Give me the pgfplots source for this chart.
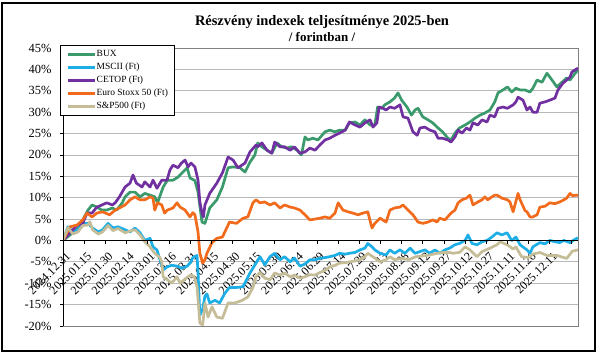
\documentclass[border=0pt]{standalone}
\usepackage{fontspec}
\setmainfont{Liberation Serif}
\usepackage{pgfplots}
\pgfplotsset{compat=1.18}
\definecolor{cbux}{HTML}{3A9A6C}
\definecolor{cmsci}{HTML}{1EAEE6}
\definecolor{ccetop}{HTML}{7030A0}
\definecolor{cstoxx}{HTML}{F26A1B}
\definecolor{csp}{HTML}{C4BD97}
\begin{document}
\begin{tikzpicture}
\useasboundingbox (0bp,0bp) rectangle (599bp,354bp);
\draw[black, line width=1.2bp] (2bp,3bp) rectangle (595bp,351bp);
\node[font=\fontsize{14.5}{16}\selectfont\bfseries] at (322bp,332bp) {Részvény indexek teljesítménye 2025-ben};
\node[font=\fontsize{13}{14}\selectfont\bfseries] at (322bp,317bp) {/ forintban /};
\begin{axis}[
  at={(63bp,28bp)}, anchor=south west,
  scale only axis, width=515bp, height=278bp,
  xmin=0, xmax=365, ymin=-20, ymax=45,
  ytick={-20,-15,...,45},
  yticklabels={-20\%,-15\%,-10\%,-5\%,0\%,5\%,10\%,15\%,20\%,25\%,30\%,35\%,40\%,45\%},
  xtick={0,15,...,345},
  xticklabels={2024.12.31,2025.01.15,2025.01.30,2025.02.14,2025.03.01,2025.03.16,2025.03.31,2025.04.15,2025.04.30,2025.05.15,2025.05.30,2025.06.14,2025.06.29,2025.07.14,2025.07.29,2025.08.13,2025.08.28,2025.09.12,2025.09.27,2025.10.12,2025.10.27,2025.11.11,2025.11.26,2025.12.11},
  x tick style={draw=none},
  ytick pos=left, tick align=outside, major tick length=3bp,
  y tick style={black, line width=0.6bp},
  yticklabel style={font=\fontsize{12.5}{14}\selectfont, xshift=-5bp},
  xticklabel style={font=\fontsize{12}{13}\selectfont, anchor=east, xshift=6.8bp, yshift=76.3bp, rotate=45, inner sep=2bp},
  ymajorgrids, grid style={draw=black!28, line width=0.8bp},
  axis line style={draw=black!50, line width=0.8bp},
  legend style={at={(-0.0058,1.0108)}, anchor=north west, draw=black, line width=0.8bp, fill=white,
    font=\fontsize{9.5}{10}\selectfont, row sep=3bp, inner xsep=6bp, inner ysep=4bp,
    nodes={inner xsep=0.5bp, inner ysep=1bp}},
  legend cell align=left,
  legend image code/.code={\draw[#1, line width=2.8bp] (0bp,0bp) -- (27bp,0bp);},
  every axis plot/.append style={line width=2.7bp, line join=round, no markers},
]
\addplot[cbux] table {
0 0
5 1.3
10 2.5
14 4.8
17.7 7.1
20.6 8.3
24 7.8
27.6 7.1
31 7.1
35 7.6
38 7.1
42 8.8
44 10.2
47.5 11.3
51 11.3
54.6 10.2
58 11
61.7 10.6
65 10.2
67 8.8
71 12.5
74 14.1
78 14.1
81.5 14.8
85 16
88 17
90 14.6
93.5 14
95.7 11.3
98.5 4.3
100.6 4
104 7.6
109 9.5
113 12.5
117 17
120.5 17.2
125.4 17
129 16
132.5 18.3
136 20
138 22.8
141 21.9
144.6 21.1
148 20.4
151.7 22.8
155 21.9
158.7 21.6
162 21.9
165.8 21.1
169 20
171.5 24.2
173.6 23.5
177 23.9
180.7 23.5
185.7 25.4
189 25.8
192.8 25.4
196 25.8
200 25.8
203 27.5
207 27.7
210.5 27
214 28.2
217.6 27
221 27
223 31.2
226 30.9
228 31.7
231.7 32.4
235 33.3
237.4 34.5
240 32.8
243.8 31.2
247 29.3
249.5 30.5
251.6 30.9
255 28.9
258.7 28.2
262 27.5
265.8 26.3
269 25.4
272.8 23.9
275 23.5
277.8 25.1
281 26.3
285 27
288.4 27.7
292 28.6
295.5 29.3
299 29.8
302.6 30.5
306 32.4
308.3 34.5
311.8 35.2
315 35.9
318 34.7
321 35.6
323.9 35.2
327.4 35.2
331 34.7
333 35.6
336 37.5
339.5 37
343 39.1
346.6 37.5
350 35.9
353.6 37
357 38
359.3 37.5
363 39.1
365 39.8
};
\addlegendentry{BUX}
\addplot[cmsci] table {
0 0
3.5 3.2
7 2
10.6 2.5
14 4
17.7 4
21 2.9
25 2
28 2.5
32 4
35.4 2.9
39 3.2
44 2.5
47.5 2
51 2.9
54.6 1.8
58 0
61.7 0.5
63.8 -1.5
66.6 -2.2
68.7 -4.5
71 -6.9
73.7 -6.2
77 -5.8
80.8 -6
84 -6.5
88 -6
90.7 -5
92 -4
95 -3.5
95.7 -7.6
97 -17.5
99 -16
100.6 -13
102 -12.5
104 -14.6
107.7 -14
111 -14.6
114.8 -12.3
118 -11
123 -11
127.6 -10.8
132.5 -7.6
136.8 -5.3
139.6 -3.8
143 -5.7
146.7 -3.8
150 -3
153.8 -4.5
157 -3.8
161 -5
164 -4.1
168 -6
171.5 -5.5
175 -4.5
178.6 -4.5
182 -4.2
185.7 -4
189 -3.8
192.8 -3.5
196 -3
200 -3.2
203 -3
207 -2.8
210.5 -2.2
214 -1.8
216 -0.7
219 -1.5
221 -2.2
224.7 -3
229 -3.4
231.7 -2.2
235 -3
238.8 -2.2
242.4 -3
246 -1.8
249.5 -3
253 -2.6
256.5 -2.2
260 -3
263.6 -2.2
267 -3
270.7 -2.2
274 -1.8
277.8 -1
281 -0.7
285 0
287 1.3
289.9 -0.7
293.4 -1
297 -0.3
300.5 0
304 0.8
307.6 1.8
311 1.3
314.7 1.8
318 0
321 0.8
323.9 -1
328.8 -2.2
331 -3
333 -1.5
338 -0.5
341.6 -0.8
345 0
348.7 -0.3
352 -0.5
355 0
359.3 -0.5
363 0.3
365 0.6
};
\addlegendentry{MSCII (Ft)}
\addplot[ccetop] table {
0 0
5 1.8
10 3.6
14 4
17 6.4
20.6 6.4
24 7.8
27.6 8.3
31 8.8
35 8.3
37 8.8
40 10.2
44 12.5
47.5 13.4
49.6 15.3
52 13.4
56 12.5
58 13.7
61.7 12.5
63.8 14.1
66.6 12.2
70 14.1
73.7 14.1
75.8 16.5
78 17.6
81.5 17
84 18.1
86.5 18.8
88.6 17.2
90.7 18.1
93.5 17.2
95.7 14.1
97 9
98.5 6.4
99.5 5.5
100.6 8.3
104 11
109 13.4
113 15.8
117 19.5
120.5 18.8
124 17
129 18.1
132.5 20.7
136.8 22.3
138 21.9
141 22.8
144.6 21.1
148 20.4
150 23
153.8 21.9
157 21.9
161 21.1
164 21.9
168 20.4
171.5 20.7
175 21.6
178.6 21.1
182 22.3
185.7 23.5
189 23.9
192.8 24.6
196 25.1
200 25.8
203 27.7
207 27
210.5 26.5
214 27.5
217.6 28.2
219.7 26.5
222.5 27.5
224 31.2
226.8 30.9
229 30.5
231.7 31.2
235 30.9
238.8 31.7
241 28.9
244.5 28.6
248 25.4
251 24.6
253 26.3
256.5 26.5
260 25.8
263.6 25.4
265.8 23.9
269 23.9
272.8 23.5
275 23
277.8 24.2
280 25.8
282.8 25.1
286 26.3
288.4 25.8
290.6 27.5
294 27
297 28.2
300.5 27.7
302.6 29.3
306 28.9
308.3 30.9
311.8 31.2
315 30.9
319 31.7
321 32.4
322.5 33.5
326 32.8
328.8 30.5
331 31.2
333 30
336 30
338 32.1
341.6 32.4
345 32.8
348.7 33.3
350.8 35.2
354.4 36.8
357 37.5
359.3 38.2
360.7 39.4
365 40.3
};
\addlegendentry{CETOP (Ft)}
\addplot[cstoxx] table {
0 0
5 3.2
10 3.6
14 4.8
17 6.4
20.6 5.5
24 6.4
28 6.7
33 6
37 7.1
40 7.6
44 8.3
47.5 9.5
51 10.2
54.6 9.5
58 9.5
61.7 10.2
63.8 9.9
65 7.1
67 8.8
70 8.3
72 6.4
74 7.1
78 7.6
80.8 8.8
83 7.8
86.5 7.1
90 5.5
92 6.5
93.5 6
95.7 2
97 -3
99 -5.3
100.6 -4.5
102 -3
105.6 -0.5
109 0.5
113 0.8
118 4.3
123 4
127.6 5.2
131 5.5
134.6 8.8
136.8 9.5
139.6 8.8
143 9
146.7 8.3
150 8.8
153.8 7.6
157 8.3
161 7.8
164 7.6
168 7.1
171.5 6
175 4.8
178.6 5
182 5.2
185.7 5.5
189 5.2
192.8 6.4
195 8.8
198.4 7.1
202 6.7
205.5 6.4
209 6
212.6 6.4
216 6.7
219 2.9
221 4
224.7 5.2
229 4.3
231.7 7.1
235 7.6
238.8 7.8
241 8.3
244.5 7.1
248 6
251.6 4.3
255 4
258.7 4.3
262 4.8
265 4.3
267 5.2
270.7 4.8
275 6.4
277.8 7.1
280 8.8
282.8 9.5
286 9.9
288.4 10.6
290.6 8.3
294 9
297 9.5
299 10.2
301 9.5
304 10.2
306 10.6
307.6 10.6
311 9.9
315 9.5
316.8 9
319 6.7
322.5 11
324 9.5
327.4 7
328.8 6.7
331 5.5
333 5.5
336 6
338 7.8
341.6 8
345 8.8
348.7 8.6
352 9
355 9.5
357 9.9
359.3 11
361 10.5
365 10.6
};
\addlegendentry{Euro Stoxx 50 (Ft)}
\addplot[csp] table {
0 0
3.5 3
7 1.5
10.6 2
14 3.5
17.7 3.6
19 4.4
21 2.5
25 1.5
28 2
32 3.5
35.4 2.3
39 2.8
44 1.8
47.5 2.2
51 2.5
54.6 1.3
58 -0.3
61.7 -1.5
65 -3
68.7 -4
70 -5
71 -8.5
74 -9.2
77 -10
80.8 -8.5
83 -10
86.5 -9
88.6 -8.5
90.7 -8
93 -8.5
95 -10.8
97 -19.3
99 -19.8
100.6 -14.6
102.8 -17.9
105.6 -15.5
109 -17.9
113 -18.2
117 -14.6
122 -14.6
127 -14
131 -13.2
134.6 -11
136.8 -8.5
139.6 -7.5
143 -8.8
146.7 -9.2
150 -7.6
153.8 -8.1
157 -7.6
161 -8.5
164 -8.1
168 -8.8
171.5 -8.5
175 -8
178.6 -8.1
182 -7.5
185.7 -7
189 -6.2
192.8 -5.8
196 -5.3
200 -5.2
203 -5
207 -4.8
210.5 -4.5
214 -3.8
216 -3
219.7 -3.8
222.5 -4.5
224.7 -5
229 -4.5
231.7 -3.8
235 -4.5
240 -4.2
245 -4.5
250 -3.8
255 -3.6
260 -3.4
265 -3
270 -2.8
274 -2.8
276.4 -3
281 -2.8
285 -1.5
288.4 -2.2
293.4 -3.8
297 -2.6
302.6 -1.8
307.6 -1
309.7 -0.3
314.7 -1
319 -2
321 -1.5
325 -3.8
329.9 -4
333 -3.2
338 -2.8
343 -3.5
350 -3.5
357 -4.2
361 -2.5
365 -2.2
};
\addlegendentry{S\&P500 (Ft)}
\draw[black, line width=1bp] (axis cs:0,0) -- (axis cs:365,0);
\pgfplotsinvokeforeach{0,15,...,360}{\draw[black, line width=0.6bp] (axis cs:#1,0) -- ++(0bp,-4bp);}
\draw[black, line width=0.8bp] (rel axis cs:0,0) -- (rel axis cs:0,1);
\end{axis}
\end{tikzpicture}
\end{document}
